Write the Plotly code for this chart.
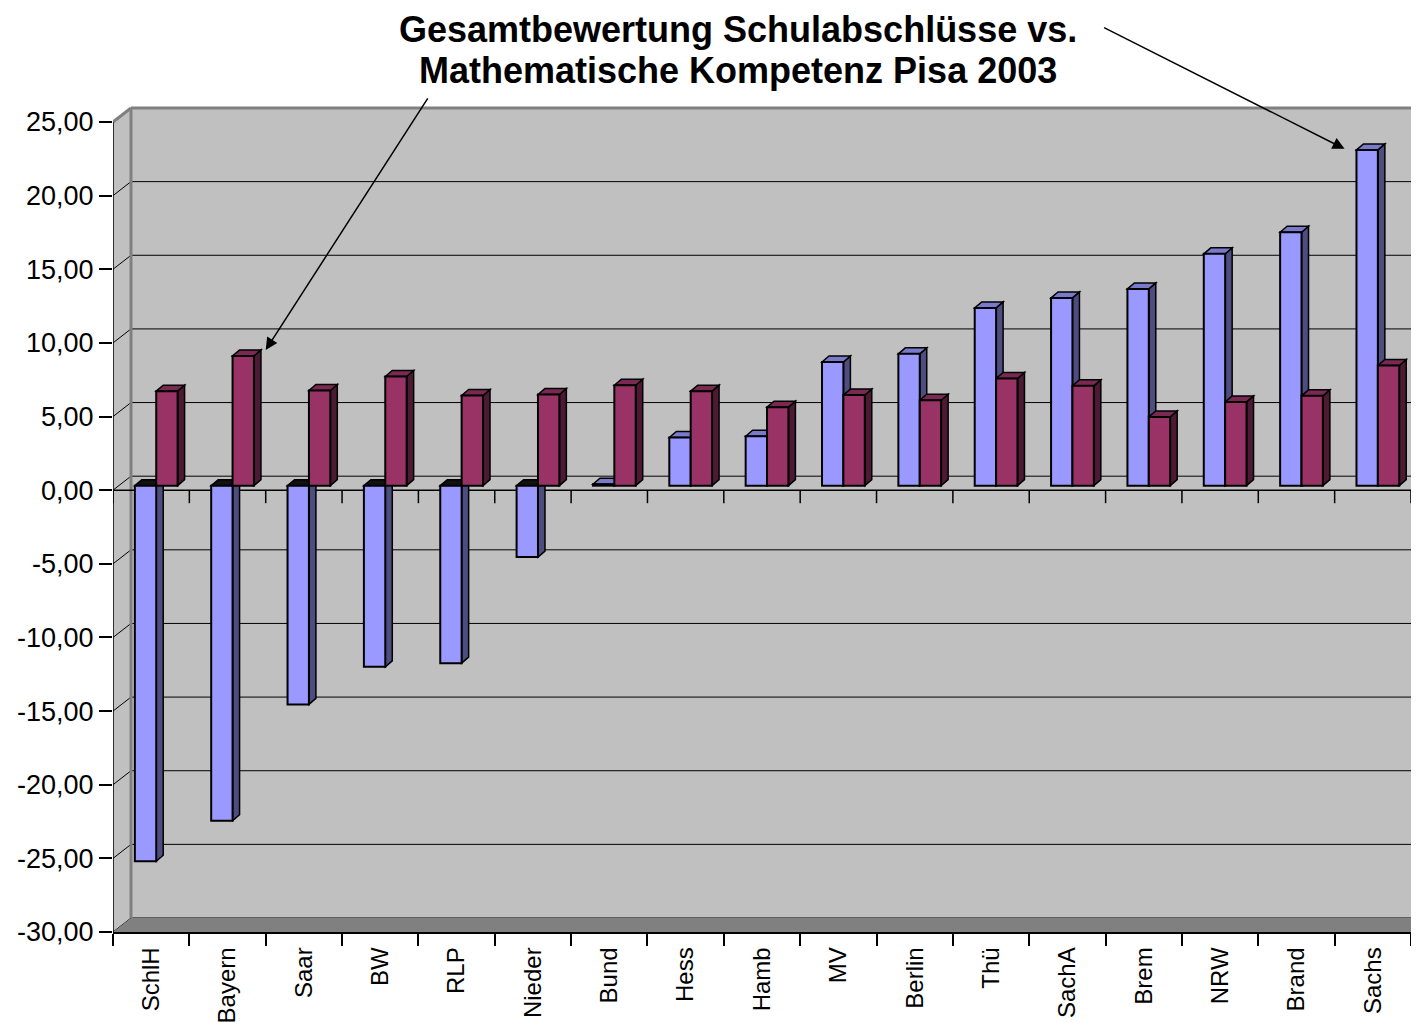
import plotly.graph_objects as go

# ---------------- data ----------------
categories = ["SchlH", "Bayern", "Saar", "BW", "RLP", "Nieder", "Bund", "Hess", "Hamb",
              "MV", "Berlin", "Thü", "SachA", "Brem", "NRW", "Brand", "Sachs"]
schulabschluesse = [-25.5, -22.75, -14.85, -12.3, -12.05, -4.85, 0.1, 3.27, 3.36,
                    8.4, 8.95, 12.07, 12.75, 13.36, 15.74, 17.21, 22.8]
pisa_mathe = [6.42, 8.81, 6.46, 7.41, 6.12, 6.19, 6.82, 6.42, 5.33,
              6.15, 5.8, 7.28, 6.78, 4.67, 5.69, 6.1, 8.16]
y_ticks = list(range(-30, 30, 5))
y_ticktext = [f"{v},00" for v in y_ticks]
title_lines = ["Gesamtbewertung Schulabschlüsse vs.", "Mathematische Kompetenz Pisa 2003"]

# ---------------- geometry / style ----------------
# the page body adds an 8px margin, so the figure is laid out to the visible area
W, H = 1403, 1014
ML, MT, MB = 105, 97, 90
PLOT_W = W - ML
PLOT_H = H - MT - MB
N = len(categories)
PXU_X = PLOT_W / N                  # px per category unit
PXU_Y = 810 / 55                    # px per value unit
Y_LO = -30
Y_HI = Y_LO + PLOT_H / PXU_Y
X_LO, X_HI = -0.5, N - 0.5

WDX, WDY = 18 / PXU_X, 14 / PXU_Y   # wall depth
BASE = 4.5 / PXU_Y                  # bar plane lift
BDX, BDY = 7 / PXU_X, 6 / PXU_Y     # bar depth

BLUE, BLUE_SIDE, BLUE_TOP = "#9999FF", "#4D4D80", "#7A7ACC"
RED, RED_SIDE, RED_TOP = "#993366", "#4D1A33", "#7A2952"
WALL, FLOOR, EDGE = "#C0C0C0", "#808080", "#808080"
FONT = "Arial, Liberation Sans, sans-serif"

series = [
    dict(name="Gesamtbewertung Schulabschlüsse", vals=schulabschluesse, off=-0.214, w=0.28,
         col=BLUE, side=BLUE_SIDE, top=BLUE_TOP),
    dict(name="Mathematische Kompetenz Pisa 2003", vals=pisa_mathe, off=0.066, w=0.28,
         col=RED, side=RED_SIDE, top=RED_TOP),
]


def poly(pts):
    return "M " + " L ".join(f"{x},{y}" for x, y in pts) + " Z"


shapes = []
# back wall
shapes.append(dict(type="rect", xref="x", yref="y", x0=X_LO + WDX, x1=X_HI,
                   y0=Y_LO + WDY, y1=25 + WDY, fillcolor=WALL, line=dict(width=0), layer="below"))
# left wall
shapes.append(dict(type="path", xref="x", yref="y", layer="below", fillcolor=WALL, line=dict(width=0),
                   path=poly([(X_LO, Y_LO), (X_LO, 25), (X_LO + WDX, 25 + WDY), (X_LO + WDX, Y_LO + WDY)])))
# gridlines on back wall and diagonals on left wall
for v in y_ticks:
    shapes.append(dict(type="line", xref="x", yref="y", layer="below", x0=X_LO + WDX, x1=X_HI,
                       y0=v + WDY, y1=v + WDY, line=dict(color="black", width=1)))
    shapes.append(dict(type="line", xref="x", yref="y", layer="below", x0=X_LO, x1=X_LO + WDX,
                       y0=v, y1=v + WDY, line=dict(color="black", width=1)))
# floor
shapes.append(dict(type="path", xref="x", yref="y", layer="below", fillcolor=FLOOR, line=dict(width=0),
                   path=poly([(X_LO, Y_LO), (X_HI, Y_LO), (X_HI, Y_LO + WDY), (X_LO + WDX, Y_LO + WDY)])))
# wall edges
shapes.append(dict(type="line", xref="x", yref="y", layer="below", x0=X_LO + WDX, x1=X_LO + WDX,
                   y0=Y_LO + WDY, y1=25 + WDY, line=dict(color=EDGE, width=3)))
shapes.append(dict(type="line", xref="x", yref="y", layer="below", x0=X_LO + WDX, x1=X_HI,
                   y0=25 + WDY, y1=25 + WDY, line=dict(color=EDGE, width=3)))
shapes.append(dict(type="line", xref="x", yref="y", layer="below", x0=X_LO, x1=X_LO + WDX,
                   y0=25, y1=25 + WDY, line=dict(color=EDGE, width=3)))
# front value axis line
shapes.append(dict(type="line", xref="x", yref="y", layer="below", x0=X_LO, x1=X_LO,
                   y0=Y_LO, y1=25, line=dict(color="black", width=1.5)))
# front category axis at zero with ticks
shapes.append(dict(type="line", xref="x", yref="y", layer="below", x0=X_LO, x1=X_HI,
                   y0=0, y1=0, line=dict(color="black", width=1.5)))
for k in range(N + 1):
    xb = X_LO + k
    shapes.append(dict(type="line", xref="x", yref="y", layer="below", x0=xb, x1=xb,
                       y0=0, y1=-13 / PXU_Y, line=dict(color="black", width=1.5)))

# 3D side / top faces of the bars
for s in series:
    for i, v in enumerate(s["vals"]):
        x0 = i + s["off"]
        x1 = x0 + s["w"]
        if v >= 0:
            yb, yt, topc = BASE, BASE + v, s["top"]
        else:
            yb, yt, topc = BASE + v, BASE, "#111111"
        shapes.append(dict(type="path", xref="x", yref="y", layer="below", fillcolor=s["side"],
                           line=dict(color="black", width=1.5),
                           path=poly([(x1, yb), (x1 + BDX, yb + BDY), (x1 + BDX, yt + BDY), (x1, yt)])))
        shapes.append(dict(type="path", xref="x", yref="y", layer="below", fillcolor=topc,
                           line=dict(color="black", width=1.5),
                           path=poly([(x0, yt), (x0 + BDX, yt + BDY), (x1 + BDX, yt + BDY), (x1, yt)])))

fig = go.Figure()
for s in series:
    fig.add_trace(go.Bar(
        x=list(range(N)), y=s["vals"], base=BASE, offset=s["off"], width=s["w"],
        name=s["name"], marker=dict(color=s["col"], line=dict(color="black", width=2)),
        showlegend=False,
    ))

# title (two lines) and arrows
ann = []
for line_text, cy in zip(title_lines, [21, 63]):
    ann.append(dict(xref="paper", yref="paper", x=(730 - ML) / PLOT_W, y=(MT + PLOT_H - cy) / PLOT_H,
                    xanchor="center", yanchor="middle", showarrow=False,
                    text=f"<b>{line_text}</b>", font=dict(family=FONT, size=36, color="black")))
ann += [
    dict(xref="x", yref="y", x=1 + 0.5, y=pisa_mathe[1] + BASE + BDY, text="",
         showarrow=True, ax=163, ay=-253, arrowhead=2, arrowsize=1.6, arrowwidth=1.5,
         arrowcolor="black", standoff=0),
    dict(xref="x", yref="y", x=16 - 0.37, y=schulabschluesse[16] + BASE + 0.07, text="",
         showarrow=True, ax=-242, ay=-122, arrowhead=2, arrowsize=1.6, arrowwidth=1.5,
         arrowcolor="black", standoff=0),
]

fig.update_layout(
    width=W, height=H,
    margin=dict(l=ML, r=0, t=MT, b=MB, pad=0, autoexpand=False),
    paper_bgcolor="white", plot_bgcolor="white",
    barmode="overlay",
    shapes=shapes, annotations=ann,
    font=dict(family=FONT, color="black"),
    xaxis=dict(range=[X_LO, X_HI], tickmode="array", tickvals=list(range(N)), ticktext=categories,
               tickangle=-90, ticks="", tickfont=dict(size=24, family=FONT, color="black"),
               ticklabelstandoff=4, automargin=False,
               showgrid=False, zeroline=False, showline=True, linecolor="black", linewidth=1.5,
               minor=dict(ticks="outside", ticklen=12, tick0=-0.5, dtick=1, tickcolor="black",
                          tickwidth=1.5, showgrid=False)),
    yaxis=dict(range=[Y_LO, Y_HI], tickmode="array", tickvals=y_ticks, ticktext=y_ticktext,
               ticks="outside", ticklen=13, tickcolor="black", tickwidth=1.5, automargin=False,
               tickfont=dict(size=27, family=FONT, color="black"),
               showgrid=False, zeroline=False, showline=False),
)

fig.write_html("out.html")
